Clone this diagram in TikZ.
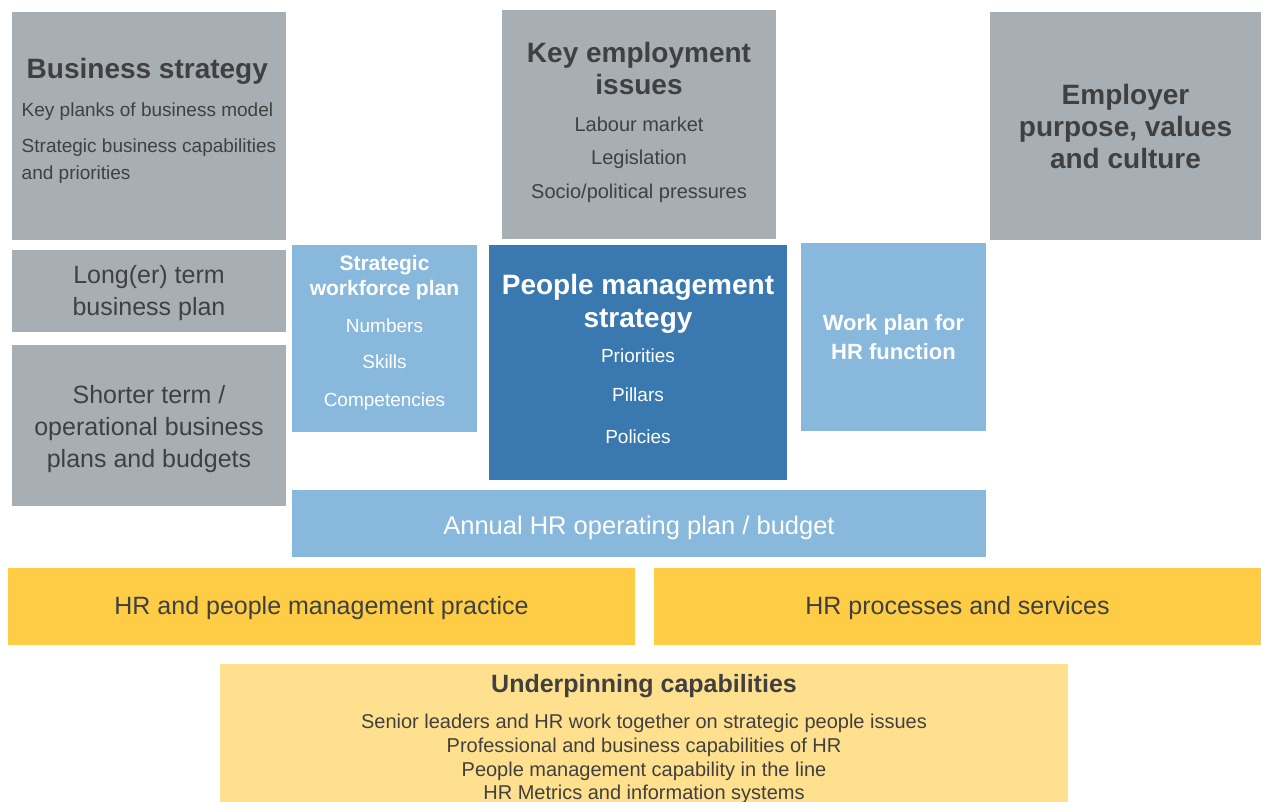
\documentclass[tikz,border=0pt]{standalone}
\usepackage{fontspec}
\setmainfont{Liberation Sans}
\usepackage{tikz}
\definecolor{stratgrey}{HTML}{A7AFB5}
\definecolor{hrlight}{HTML}{88B8DC}
\definecolor{hrdark}{HTML}{3A79AF}
\definecolor{practgold}{HTML}{FECD45}
\definecolor{capgold}{HTML}{FEE08E}
\definecolor{inkgrey}{HTML}{404040}

\begin{document}
\begin{tikzpicture}[x=1pt, y=-1pt,
		panel/.style={rectangle, anchor=north west, inner sep=0pt, outer sep=0pt, align=center},
		context/.style={panel, fill=stratgrey, text=inkgrey},
		hrplan/.style={panel, fill=hrlight, text=white},
		hrcore/.style={panel, fill=hrdark, text=white},
		practice/.style={panel, fill=practgold, text=inkgrey, font=\fontsize{25}{30}\selectfont, text height=16.6pt, text depth=0pt},
		capability/.style={panel, fill=capgold, text=inkgrey}]
		\useasboundingbox (0,0) rectangle (1261,802);
		\clip (0,0) rectangle (1261,802);

		% business context across the top and down the left
		\node[context, align=left, minimum width=274pt, minimum height=228pt, text height=107pt, text depth=0pt, font=\fontsize{19}{27}\selectfont] (bizstrat) at (12,12)
			{\hspace*{5pt}\textbf{\fontsize{28}{32}\selectfont Business strategy}\\[11pt]
			Key planks of business model\\[9pt]
			Strategic business capabilities\\and priorities};
		\node[context, minimum width=274pt, minimum height=229pt, text height=148pt, text depth=0pt, font=\fontsize{20}{33}\selectfont] (keyissues) at (502,10)
			{\textbf{\fontsize{28}{32}\selectfont Key employment}\\[-1pt]
			\textbf{\fontsize{28}{32}\selectfont issues}\\[4pt]
			Labour market\\Legislation\\[1pt]Socio/political pressures};
		\node[context, minimum width=271pt, minimum height=228pt, font=\fontsize{28}{32}\selectfont\bfseries] (purpose) at (990,12)
			{Employer\\purpose, values\\and culture};
		\node[context, minimum width=274pt, minimum height=82pt, text height=49.5pt, text depth=0pt, font=\fontsize{25}{32}\selectfont] (longterm) at (12,250)
			{Long(er) term\\business plan};
		\node[context, minimum width=274pt, minimum height=161pt, text height=84.6pt, text depth=0pt, font=\fontsize{25}{32}\selectfont] (shortterm) at (12,345)
			{Shorter term /\\operational business\\plans and budgets};

		% HR planning in the middle
		\node[hrplan, minimum width=185pt, minimum height=187pt, text height=135pt, text depth=0pt, font=\fontsize{19}{37}\selectfont] (workforce) at (292,245)
			{\textbf{\fontsize{21}{25}\selectfont Strategic}\\[-12pt]
			\textbf{\fontsize{21}{25}\selectfont workforce plan}\\
			Numbers\\[-1pt]Skills\\[1pt]Competencies};
		\node[hrcore, minimum width=298pt, minimum height=235pt, text height=161.5pt, text depth=0pt, font=\fontsize{19}{40}\selectfont] (pmstrategy) at (489,245)
			{\textbf{\fontsize{28}{33}\selectfont People management}\\[-7pt]
			\textbf{\fontsize{28}{33}\selectfont strategy}\\[-5pt]
			Priorities\\[-1pt]Pillars\\[2pt]Policies};
		\node[hrplan, minimum width=185pt, minimum height=188pt, font=\fontsize{22}{29}\selectfont\bfseries] (workplan) at (801,243)
			{Work plan for\\HR function};
		\node[hrplan, minimum width=694pt, minimum height=67pt, text height=21.5pt, text depth=0pt, font=\fontsize{25.5}{30}\selectfont] (annual) at (292,490)
			{Annual HR operating plan / budget};

		% delivery and foundations
		\node[practice, minimum width=627pt, minimum height=77pt] (hrpractice) at (8,568)
			{HR and people management practice};
		\node[practice, minimum width=607pt, minimum height=77pt] (hrprocess) at (654,568)
			{HR processes and services};
		\node[capability, minimum width=848pt, minimum height=148pt, text height=123pt, text depth=0pt, font=\fontsize{20}{23.5}\selectfont] (underpin) at (220,664)
			{\textbf{\fontsize{25}{30}\selectfont Underpinning capabilities}\\[12pt]
			Senior leaders and HR work together on strategic people issues\\[1pt]
			Professional and business capabilities of HR\\
			People management capability in the line\\
			HR Metrics and information systems};
	\end{tikzpicture}
\end{document}
